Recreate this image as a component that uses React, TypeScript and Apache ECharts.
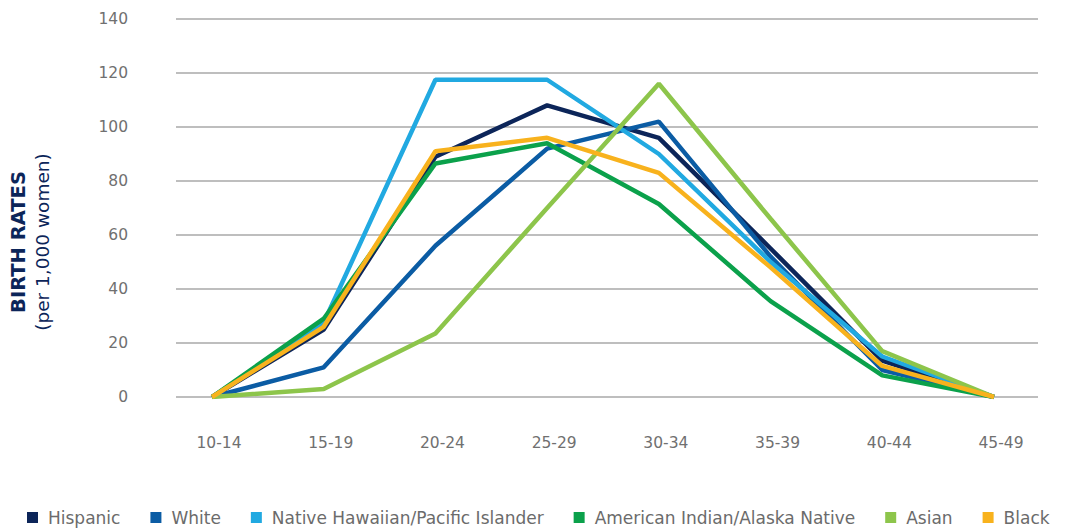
import React, { useEffect, useRef } from "react";
import * as echarts from "echarts";

const categories = ["10-14", "15-19", "20-24", "25-29", "30-34", "35-39", "40-44", "45-49"];
const seriesNames = [
  "Hispanic",
  "White",
  "Native Hawaiian/Pacific Islander",
  "American Indian/Alaska Native",
  "Asian",
  "Black",
];
const hispanic = [0, 25, 89, 108, 96, 55, 13.5, 0];
const white = [0, 11, 56, 92, 102, 52, 10, 0];
const nativeHawaiian = [0, 27.5, 117.5, 117.5, 90, 50, 15, 0];
const americanIndian = [0, 29, 86.5, 94, 71.5, 35.5, 8, 0];
const asian = [0, 3, 23.5, 70, 116, 66, 17, 0];
const black = [0, 26, 91, 96, 83, 48, 11.5, 0];
const seriesValues = [hispanic, white, nativeHawaiian, americanIndian, asian, black];
const colors = ["#0c2559", "#0b5ca4", "#21a9e1", "#0ba14b", "#8dc54b", "#f8b21d"];
const yTicks = [0, 20, 40, 60, 80, 100, 120, 140];

const FONT = "'DejaVu Sans', sans-serif";

export default function App() {
  const ref = useRef<HTMLDivElement>(null);
  useEffect(() => {
    document.body.style.margin = "0";
    if (!ref.current) return;
    const chart = echarts.init(ref.current, null, { renderer: "svg" });
    const yMin = yTicks[0];
    const yMax = yTicks[yTicks.length - 1];
    const yInterval = yTicks[1] - yTicks[0];
    chart.setOption({
      animation: false,
      backgroundColor: "#ffffff",
      color: colors,
      textStyle: { fontFamily: FONT },
      grid: [
        { left: 176, right: 37, top: 19, bottom: 132 },
        { left: 212, right: 81, top: 19, bottom: 132 },
      ],
      xAxis: [
        {
          gridIndex: 0,
          type: "value",
          min: 0,
          max: 1,
          show: false,
        },
        {
          gridIndex: 1,
          type: "category",
          data: categories,
          boundaryGap: false,
          axisLine: { show: false },
          axisTick: { show: false },
          axisLabel: {
            margin: 38,
            color: "#707070",
            fontSize: 15.5,
            fontFamily: FONT,
            padding: [0, 0, 0, 14],
          },
        },
      ],
      yAxis: [
        {
          gridIndex: 0,
          type: "value",
          min: yMin,
          max: yMax,
          interval: yInterval,
          axisLine: { show: false },
          axisTick: { show: false },
          axisLabel: {
            margin: 48,
            color: "#707070",
            fontSize: 15.5,
            fontFamily: FONT,
          },
          splitLine: { show: true, lineStyle: { color: "#a9a9a9", width: 1.5 } },
        },
        {
          gridIndex: 1,
          type: "value",
          min: yMin,
          max: yMax,
          interval: yInterval,
          show: false,
          splitLine: { show: false },
        },
      ],
      legend: {
        left: 22,
        top: 504,
        icon: "rect",
        itemWidth: 11,
        itemHeight: 11,
        itemGap: 30,
        textStyle: {
          color: "#6b6b6b",
          fontSize: 17,
          fontFamily: FONT,
          padding: [0, 0, 0, 5],
        },
        data: seriesNames,
      },
      graphic: [
        {
          type: "text",
          x: 18,
          y: 242,
          rotation: Math.PI / 2,
          style: {
            text: "BIRTH RATES",
            fontSize: 19.5,
            fontWeight: "bold",
            fill: "#0c2559",
            fontFamily: FONT,
            align: "center",
            verticalAlign: "middle",
          },
        },
        {
          type: "text",
          x: 42,
          y: 242,
          rotation: Math.PI / 2,
          style: {
            text: "(per 1,000 women)",
            fontSize: 18.5,
            fill: "#0c2559",
            fontFamily: FONT,
            align: "center",
            verticalAlign: "middle",
          },
        },
      ],
      series: seriesNames.map((name, i) => ({
        name,
        type: "line",
        xAxisIndex: 1,
        yAxisIndex: 1,
        data: seriesValues[i],
        symbol: "none",
        lineStyle: { width: 4.5, color: colors[i] },
        itemStyle: { color: colors[i] },
      })),
    });
    return () => chart.dispose();
  }, []);
  return <div ref={ref} style={{ width: 1075, height: 529 }} />;
}
